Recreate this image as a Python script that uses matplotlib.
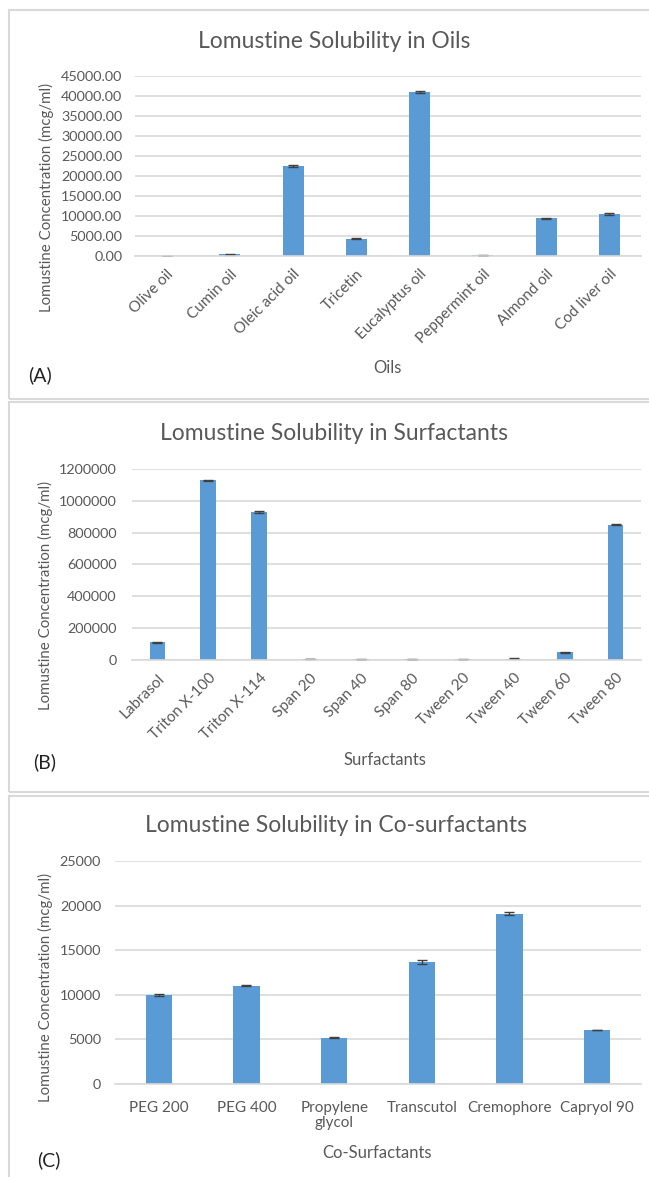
import matplotlib
matplotlib.use("Agg")
import matplotlib.pyplot as plt
from matplotlib.patches import Rectangle

plt.rcParams['font.family'] = ['Lato', 'DejaVu Sans']

# ---- data ----
oils = ["Olive oil", "Cumin oil", "Oleic acid oil", "Tricetin", "Eucalyptus oil",
        "Peppermint oil", "Almond oil", "Cod liver oil"]
oil_vals = [0, 400, 22500, 4300, 41000, 150, 9400, 10500]
oil_err = [0, 100, 200, 150, 150, 50, 150, 150]
oil_ticks = [0, 5000, 10000, 15000, 20000, 25000, 30000, 35000, 40000, 45000]

surf = ["Labrasol", "Triton X-100", "Triton X-114", "Span 20", "Span 40", "Span 80",
        "Tween 20", "Tween 40", "Tween 60", "Tween 80"]
surf_vals = [110000, 1130000, 930000, 5000, 4000, 4000, 4000, 9000, 48000, 850000]
surf_err = [6000, 3000, 8000, 1000, 1000, 1000, 1000, 2000, 3000, 3000]
surf_ticks = [0, 200000, 400000, 600000, 800000, 1000000, 1200000]

cosurf = ["PEG 200", "PEG 400", "Propylene\nglycol", "Transcutol", "Cremophore", "Capryol 90"]
cosurf_vals = [10000, 11000, 5200, 13700, 19100, 6050]
cosurf_err = [80, 50, 80, 250, 200, 0]
cosurf_ticks = [0, 5000, 10000, 15000, 20000, 25000]

W, H = 649, 1177
fig = plt.figure(figsize=(W / 100, H / 100), dpi=100)

BAR = "#5B9BD5"
GRID = "#D9D9D9"
TXT = "#595959"
TICK_FS = 10.4
ROT_FS = 11
TITLE_FS = 16.5
YLAB_FS = 10.8
XLAB_FS = 12
PANEL_FS = 14
YLAB = "Lomustine Concentration (mcg/ml)"


def px_axes(l, t, r, b):
    return fig.add_axes([l / W, 1 - b / H, (r - l) / W, (b - t) / H])


def ftext(x, y, s, **kw):
    fig.text(x / W, 1 - y / H, s, **kw)


def style(ax, ticks, fmt, pad):
    ax.set_ylim(ticks[0], ticks[-1])
    ax.set_yticks(ticks)
    ax.set_yticklabels([fmt(t) for t in ticks], color=TXT, fontsize=TICK_FS)
    ax.tick_params(axis='y', length=0, pad=pad)
    ax.tick_params(axis='x', length=0)
    for s in ["top", "right", "left"]:
        ax.spines[s].set_visible(False)
    ax.spines["bottom"].set_color(GRID)
    ax.spines["bottom"].set_linewidth(1.2)
    ax.grid(axis='y', color=GRID, linewidth=1.2)
    ax.set_axisbelow(True)


def panel_box(l, t, r, b):
    fig.patches.append(Rectangle((l / W, 1 - b / H), (r - l) / W, (b - t) / H,
                                 transform=fig.transFigure, fill=False,
                                 edgecolor=GRID, linewidth=1.5))

# panel borders
panel_box(9, 10, 660, 399)
panel_box(9, 402, 660, 792)
panel_box(9, 796, 660, 1190)

ekw = dict(ecolor="#404040", elinewidth=1, capsize=3.5, capthick=1)

# ---- (A) ----
axA = px_axes(135, 76, 641, 256)
xa = range(len(oils))
axA.bar(xa, oil_vals, width=0.33, color=BAR, yerr=oil_err, error_kw=ekw)
axA.set_xlim(-0.5, len(oils) - 0.5)
style(axA, oil_ticks, lambda t: f"{t:.2f}", 9)
axA.set_xticks(list(xa))
axA.set_xticklabels(oils, rotation=45, ha='right', va='top', rotation_mode='anchor',
                    color=TXT, fontsize=ROT_FS)
axA.tick_params(axis='x', pad=8)
ftext(334, 42, "Lomustine Solubility in Oils", ha='center', va='center', fontsize=TITLE_FS, color=TXT)
ftext(46, 197, YLAB, rotation=90, ha='center', va='center', fontsize=YLAB_FS, color=TXT)
ftext(387, 368, "Oils", ha='center', va='center', fontsize=XLAB_FS, color=TXT)
ftext(40, 375, "(A)", ha='center', va='center', fontsize=PANEL_FS, color="#222222")

# ---- (B) ----
axB = px_axes(132, 469, 641, 660)
xb = range(len(surf))
axB.bar(xb, surf_vals, width=0.31, color=BAR, yerr=surf_err, error_kw=ekw)
axB.set_xlim(-0.5, len(surf) - 0.5)
style(axB, surf_ticks, lambda t: f"{t:d}", 11)
axB.set_xticks(list(xb))
axB.set_xticklabels(surf, rotation=45, ha='right', va='top', rotation_mode='anchor',
                    color=TXT, fontsize=ROT_FS)
axB.tick_params(axis='x', pad=8)
ftext(334, 433, "Lomustine Solubility in Surfactants", ha='center', va='center', fontsize=TITLE_FS, color=TXT)
ftext(45, 595, YLAB, rotation=90, ha='center', va='center', fontsize=YLAB_FS, color=TXT)
ftext(385, 760, "Surfactants", ha='center', va='center', fontsize=XLAB_FS, color=TXT)
ftext(45, 762, "(B)", ha='center', va='center', fontsize=PANEL_FS, color="#222222")

# ---- (C) ----
axC = px_axes(115, 861, 641, 1084)
xc = range(len(cosurf))
axC.bar(xc, cosurf_vals, width=0.30, color=BAR, yerr=cosurf_err, error_kw=ekw)
axC.set_xlim(-0.5, len(cosurf) - 0.5)
style(axC, cosurf_ticks, lambda t: f"{t:d}", 10)
axC.set_xticks(list(xc))
axC.set_xticklabels(cosurf, color=TXT, fontsize=ROT_FS, linespacing=1.1)
axC.tick_params(axis='x', pad=12)
ftext(336, 825, "Lomustine Solubility in Co-surfactants", ha='center', va='center', fontsize=TITLE_FS, color=TXT)
ftext(45, 988, YLAB, rotation=90, ha='center', va='center', fontsize=YLAB_FS, color=TXT)
ftext(377, 1153, "Co-Surfactants", ha='center', va='center', fontsize=XLAB_FS, color=TXT)
ftext(49, 1160, "(C)", ha='center', va='center', fontsize=PANEL_FS, color="#222222")

fig.savefig("out.png", dpi=100, facecolor="white")
